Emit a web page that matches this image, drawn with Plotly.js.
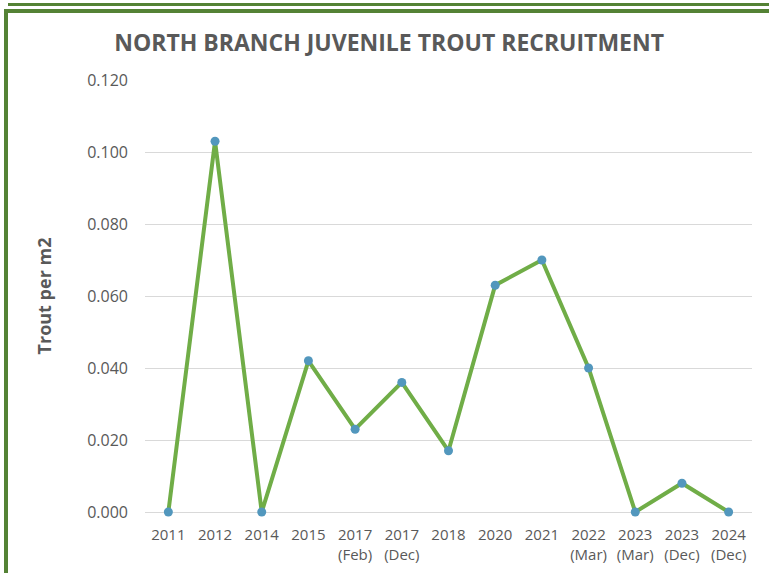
<!DOCTYPE html>
<html>
<head>
<meta charset="utf-8">
<script src="https://cdn.plot.ly/plotly-3.0.1.min.js"></script>
<style>
  html, body { margin: 0; padding: 0; background: #ffffff; }
  #wrap { position: relative; width: 769px; height: 573px; overflow: hidden; }
  #chart { position: absolute; left: 0; top: 0; width: 769px; height: 573px; }
  .bar { position: absolute; background: #548235; }
</style>
</head>
<body>
<div id="wrap">
  <div id="chart"></div>
  <!-- green frame around the chart panel -->
  <div class="bar" style="left:8px; top:3px; width:761px; height:3px;"></div>
  <div class="bar" style="left:4px; top:9px; width:765px; height:4px;"></div>
  <div class="bar" style="left:4px; top:9px; width:4px; height:564px;"></div>
</div>
<script>
// Survey occasions (category labels) and juvenile trout density
const surveys = [
  "2011", "2012", "2014", "2015", "2017<br>(Feb)", "2017<br>(Dec)", "2018",
  "2020", "2021", "2022<br>(Mar)", "2023<br>(Mar)", "2023<br>(Dec)", "2024<br>(Dec)"
];
const troutPerM2 = [0.000, 0.103, 0.000, 0.042, 0.023, 0.036, 0.017,
                    0.063, 0.070, 0.040, 0.000, 0.008, 0.000];
const yTicks = [0, 0.02, 0.04, 0.06, 0.08, 0.10, 0.12];

const font = "'Open Sans', 'DejaVu Sans', sans-serif";
const grey = "#595959";

const trace = {
  type: "scatter",
  mode: "lines+markers",
  x: surveys,
  y: troutPerM2,
  line: { color: "#70AD47", width: 4 },
  marker: { color: "#5297BD", size: 9, line: { width: 0 } },
  cliponaxis: false,
  hoverinfo: "x+y"
};

const layout = {
  width: 769,
  height: 573,
  paper_bgcolor: "#ffffff",
  plot_bgcolor: "#ffffff",
  margin: { l: 145, r: 17, t: 80, b: 61 },
  showlegend: false,
  title: {
    text: "<b>NORTH BRANCH JUVENILE TROUT RECRUITMENT</b>",
    font: { family: font, size: 23, color: grey },
    x: 0.506, xanchor: "center",
    y: 0.925, yanchor: "middle"
  },
  xaxis: {
    type: "category",
    range: [-0.5, 12.5],
    showgrid: false,
    zeroline: false,
    showline: false,
    ticks: "",
    tickfont: { family: font, size: 15, color: grey },
    ticklabelstandoff: 12
  },
  yaxis: {
    range: [0, 0.12],
    tickvals: yTicks,
    tickformat: ".3f",
    showgrid: true,
    gridcolor: "#d9d9d9",
    gridwidth: 1,
    zeroline: true,
    zerolinecolor: "#d9d9d9",
    zerolinewidth: 1,
    showline: false,
    ticks: "",
    ticklabelstandoff: 16,
    tickfont: { family: font, size: 16, color: grey },
    title: {
      text: "<b>Trout per m2</b>",
      font: { family: font, size: 18, color: grey },
      standoff: 30
    }
  }
};

Plotly.newPlot("chart", [trace], layout, { displayModeBar: false, staticPlot: true });
</script>
</body>
</html>
